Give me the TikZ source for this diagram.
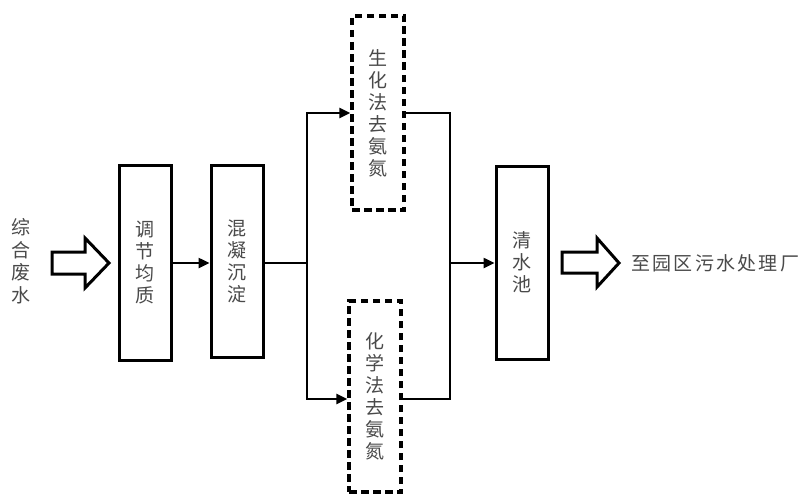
\documentclass[tikz,border=0pt]{standalone}
\usepackage{fontspec}
\setmainfont{Noto Sans CJK SC}
\usetikzlibrary{arrows.meta}
\definecolor{ink}{HTML}{4A4A4A}
\tikzset{
  stage/.style={draw=black, line width=3pt, minimum width=52pt, inner sep=0pt,
    text=ink, font=\fontsize{19}{22}\selectfont, align=center},
  dashstage/.style={stage, line width=3.4pt, dash pattern=on 7.5pt off 4.5pt},
  label/.style={text=ink, inner sep=0pt, align=center},
  pipe/.style={line width=2.4pt},
  flow/.style={pipe, -{Triangle[length=11pt,width=10pt]}},
  hollow/.style={draw=black, line width=3pt, line join=miter, fill=white}
}
\begin{document}
\begin{tikzpicture}[x=1pt, y=-1pt]
  \useasboundingbox[fill=white] (0,0) rectangle (810,495);

  % feed water label and inlet arrow
  \node[label, font=\fontsize{19}{22.5}\selectfont] (feed) at (21,261) {综\\合\\废\\水};
  \draw[hollow] (52,252) -- (85,252) -- (85,238) -- (109,263) -- (85,288)
    -- (85,274) -- (52,274) -- cycle;

  % treatment stages
  \node[stage, minimum height=195pt] (equal) at (145,262.5) {调\\节\\均\\质};
  \node[stage, minimum height=192pt] (coag)  at (237,261) {混\\凝\\沉\\淀};
  \node[dashstage, minimum height=194pt] (bio)  at (378,113) {生\\化\\法\\去\\氨\\氮};
  \node[dashstage, minimum height=191pt] (chem) at (375,396.5) {化\\学\\法\\去\\氨\\氮};
  \node[stage, minimum height=193pt] (pool) at (522,262.5) {清\\水\\池};

  % branch and merge points
  \coordinate (split) at (307,263);
  \coordinate (merge) at (450,263);

  \draw[flow] (equal.east |- 0,263) -- (coag.west |- 0,263);
  \draw[pipe] (coag.east |- split) -- (split);
  \draw[flow] (split) |- (bio.west);
  \draw[flow] (split) |- (chem.west |- 0,399);
  \draw[pipe] (bio.east) -| (merge);
  \draw[pipe] (chem.east |- 0,399) -| (merge);
  \draw[flow] (merge) -- (pool.west |- merge);

  % outlet arrow and destination
  \draw[hollow] (562,252) -- (597,252) -- (597,238) -- (619,263) -- (597,287)
    -- (597,273) -- (562,273) -- cycle;
  \node[label, anchor=west, font=\fontsize{19}{22}\selectfont\addfontfeature{LetterSpace=12}]
    (dest) at (631,263) {至园区污水处理厂};
\end{tikzpicture}
\end{document}
